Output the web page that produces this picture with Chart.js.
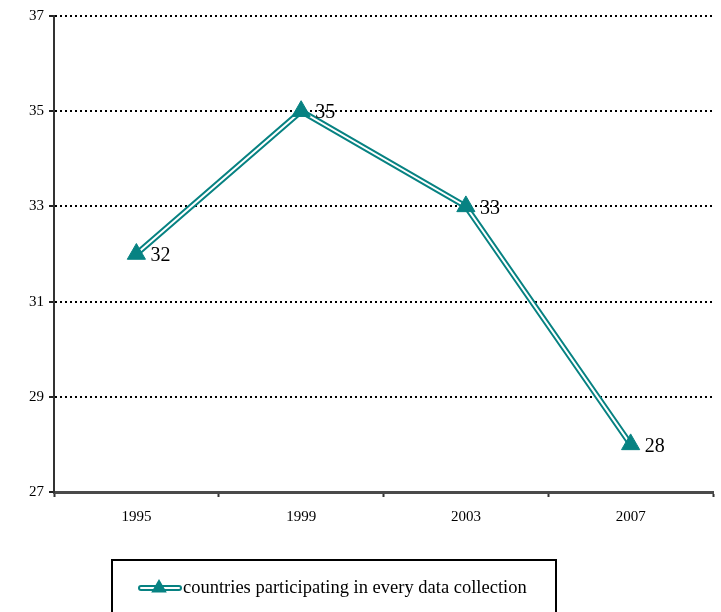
<!DOCTYPE html>
<html>
<head>
<meta charset="utf-8">
<script src="https://cdn.jsdelivr.net/npm/chart.js@4.4.0/dist/chart.umd.min.js"></script>
<style>
    html, body { margin: 0; padding: 0; background: #fff; }
    #wrap { width: 721px; height: 612px; }
</style>
</head>
<body>
<div id="wrap"><canvas id="countriesChart" width="721" height="612"></canvas></div>
<script>
// Survey years and number of countries taking part in every round
const years = ['1995', '1999', '2003', '2007'];
const countries = [32, 35, 33, 28];
const seriesLabel = 'countries participating in every data collection';
const yTicks = [27, 29, 31, 33, 35, 37];

const TEAL = '#078282';
const SERIF = '"Liberation Serif", "Times New Roman", serif';

// Value labels next to each triangle
const valueLabels = {
    id: 'valueLabels',
    afterDatasetsDraw(chart) {
        const ctx = chart.ctx;
        const meta = chart.getDatasetMeta(0);
        ctx.save();
        ctx.font = '20px ' + SERIF;
        ctx.fillStyle = '#000';
        ctx.textAlign = 'left';
        ctx.textBaseline = 'middle';
        meta.data.forEach((pt, i) => {
            ctx.fillText(String(chart.data.datasets[0].data[i]), pt.x + 14, pt.y + 2);
        });
        ctx.restore();
    }
};

// Boxed legend under the chart with a double-line + triangle symbol
const boxLegend = {
    id: 'boxLegend',
    afterDraw(chart) {
        const ctx = chart.ctx;
        const ds = chart.data.datasets[0];
        const boxX = 112, boxY = 560, boxW = 444, boxH = 60;
        const cy = 588;
        ctx.save();
        ctx.strokeStyle = '#000';
        ctx.lineWidth = 2;
        ctx.strokeRect(boxX, boxY, boxW, boxH);

        // symbol: teal band with white core
        ctx.lineCap = 'round';
        ctx.strokeStyle = TEAL;
        ctx.lineWidth = 6;
        ctx.beginPath();
        ctx.moveTo(141, cy);
        ctx.lineTo(179, cy);
        ctx.stroke();
        ctx.strokeStyle = '#fff';
        ctx.lineWidth = 2;
        ctx.beginPath();
        ctx.moveTo(141, cy);
        ctx.lineTo(179, cy);
        ctx.stroke();

        ctx.fillStyle = TEAL;
        ctx.beginPath();
        const r = 9;
        for (let k = 0; k < 3; k++) {
            const a = k * 2 * Math.PI / 3;
            const px = 159 + Math.sin(a) * r;
            const py = cy - Math.cos(a) * r;
            if (k === 0) ctx.moveTo(px, py); else ctx.lineTo(px, py);
        }
        ctx.closePath();
        ctx.fill();

        ctx.font = '18.5px ' + SERIF;
        ctx.fillStyle = '#000';
        ctx.textAlign = 'left';
        ctx.textBaseline = 'middle';
        ctx.fillText(ds.label, 183, cy);
        ctx.restore();
    }
};

const ctx = document.getElementById('countriesChart');
new Chart(ctx, {
    type: 'line',
    data: {
        labels: years,
        datasets: [
            {
                // white core of the double line, carries the markers
                label: seriesLabel,
                data: countries,
                borderColor: '#fff',
                borderWidth: 2,
                tension: 0,
                fill: false,
                pointStyle: 'triangle',
                pointRadius: 10.5,
                pointHoverRadius: 10.5,
                pointBackgroundColor: TEAL,
                pointBorderColor: TEAL,
                pointBorderWidth: 1
            },
            {
                // teal outer band
                label: seriesLabel,
                data: countries,
                borderColor: TEAL,
                borderWidth: 6,
                tension: 0,
                fill: false,
                pointRadius: 0,
                pointHoverRadius: 0
            }
        ]
    },
    options: {
        responsive: false,
        animation: false,
        devicePixelRatio: 1,
        layout: {
            autoPadding: false,
            padding: { left: 0, right: 8, top: 16, bottom: 0 }
        },
        scales: {
            x: {
                offset: true,
                afterFit: function(scale) {
                    scale.height = 120;
                    scale.paddingLeft = 0;
                    scale.paddingRight = 0;
                },
                grid: {
                    offset: true,
                    drawOnChartArea: false,
                    drawTicks: true,
                    tickLength: 5,
                    tickColor: '#333',
                    tickWidth: 2
                },
                border: { display: true, color: '#4a4a4a', width: 3 },
                ticks: {
                    color: '#000',
                    padding: 11,
                    font: { family: SERIF, size: 15 }
                }
            },
            y: {
                min: 27,
                max: 37,
                afterFit: function(scale) { scale.width = 54; },
                afterBuildTicks: function(scale) {
                    scale.ticks = yTicks.map(v => ({ value: v }));
                },
                grid: {
                    color: '#000',
                    lineWidth: 2,
                    drawTicks: true,
                    tickLength: 5,
                    tickColor: '#222',
                    tickWidth: 2,
                    tickBorderDash: []
                },
                border: { display: true, color: '#333', width: 2, dash: [2, 3] },
                ticks: {
                    color: '#000',
                    padding: 5,
                    font: { family: SERIF, size: 15 }
                }
            }
        },
        plugins: {
            legend: { display: false },
            tooltip: { enabled: false }
        }
    },
    plugins: [valueLabels, boxLegend]
});
</script>
</body>
</html>
